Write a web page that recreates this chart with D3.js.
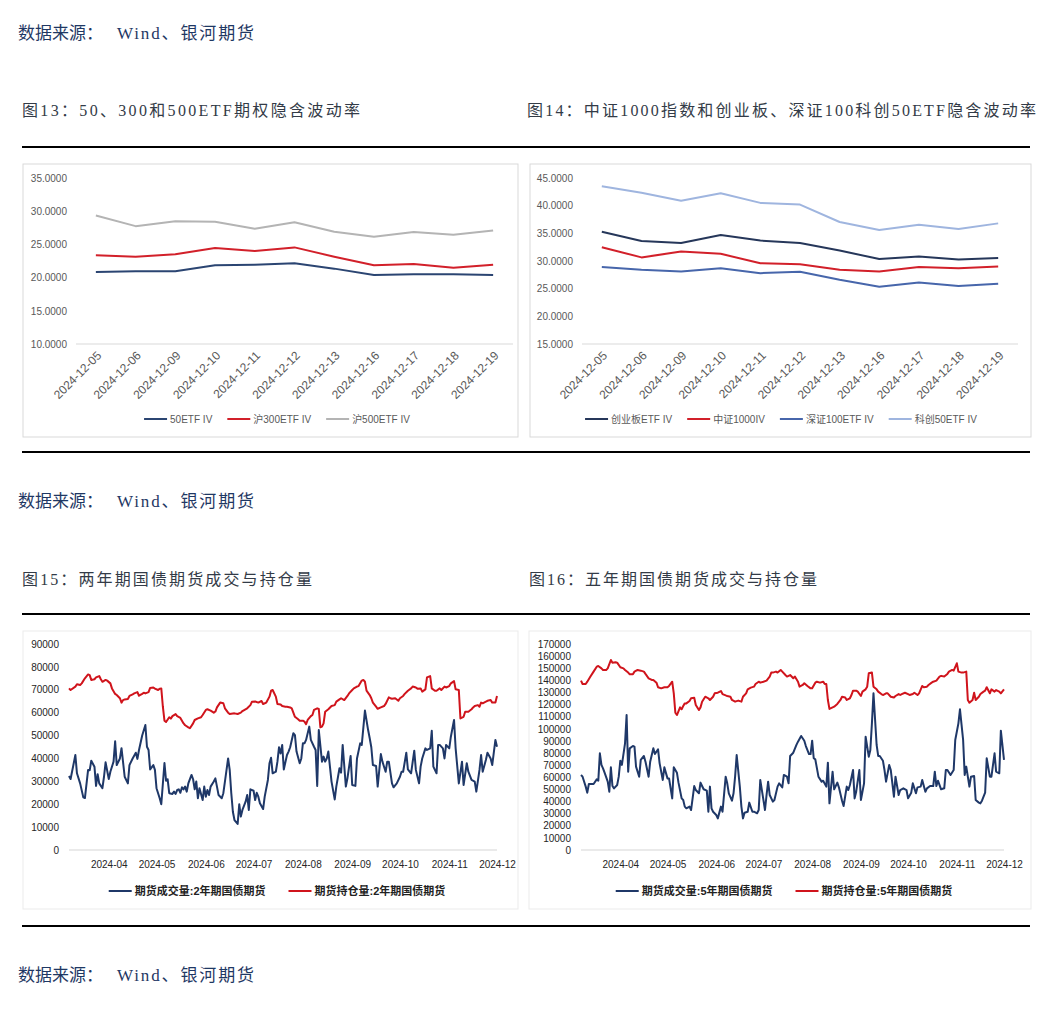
<!DOCTYPE html>
<html>
<head>
<meta charset="utf-8">
<script src="https://cdn.jsdelivr.net/npm/d3@7"></script>
<style>
body{margin:0;background:#fff;}
svg{display:block;}
</style>
</head>
<body>
<script>
//category axis of the two IV charts
var ivDates = ["2024-12-05","2024-12-06","2024-12-09","2024-12-10","2024-12-11","2024-12-12","2024-12-13","2024-12-16","2024-12-17","2024-12-18","2024-12-19"];

//fig 13 series
var iv50 = [20.85,20.95,20.95,21.85,21.95,22.15,21.35,20.4,20.5,20.5,20.4];
var iv300 = [23.35,23.15,23.5,24.45,24.0,24.55,23.15,21.85,22.05,21.5,21.95];
var iv500 = [29.35,27.75,28.5,28.4,27.35,28.35,26.9,26.15,26.85,26.45,27.1];

//fig 14 series
var ivCyb = [35.3,33.6,33.25,34.7,33.7,33.25,31.9,30.35,30.8,30.25,30.55];
var iv1000 = [32.5,30.65,31.7,31.3,29.6,29.4,28.4,28.1,28.9,28.7,29.0];
var ivSz100 = [28.9,28.4,28.1,28.7,27.8,28.05,26.6,25.35,26.1,25.5,25.9];
var ivKc50 = [43.5,42.35,40.9,42.25,40.5,40.2,37.05,35.6,36.55,35.8,36.8];

var ivTicks13 = [10,15,20,25,30,35];
var ivTicks14 = [15,20,25,30,35,40,45];

//fig 15: 2y treasury futures, [month-day of 2024, value]
var vol2 = [["03-07",32300],["03-08",31000],["03-11",41500],["03-12",33500],["03-14",29100],["03-16",23000],["03-17",22700],["03-19",35000],["03-20",34800],["03-21",39000],["03-23",36400],["03-24",28000],["03-25",33100],["03-26",29100],["03-28",27000],["03-29",32000],["03-30",38300],["04-01",31000],["04-02",34200],["04-04",38600],["04-05",47500],["04-06",37100],["04-08",40000],["04-09",44500],["04-11",32000],["04-13",29100],["04-14",37100],["04-16",40000],["04-18",42500],["04-19",39800],["04-20",43700],["04-22",50000],["04-24",54600],["04-25",45100],["04-26",43700],["04-27",35200],["04-29",37100],["04-30",35000],["05-01",27000],["05-03",22600],["05-04",20000],["05-06",38000],["05-07",30300],["05-08",30900],["05-09",24800],["05-11",24500],["05-12",25500],["05-13",24500],["05-14",26200],["05-15",26500],["05-16",25000],["05-17",27400],["05-18",26500],["05-19",27700],["05-20",25500],["05-21",29100],["05-23",32800],["05-24",30900],["05-25",26500],["05-26",29900],["05-27",22600],["05-28",27000],["05-30",21800],["05-31",27700],["06-01",23300],["06-02",26200],["06-03",24000],["06-04",27700],["06-06",29900],["06-07",31300],["06-08",27700],["06-09",24000],["06-11",22600],["06-12",24800],["06-13",29900],["06-15",40000],["06-16",35000],["06-17",24800],["06-18",16700],["06-19",13100],["06-21",11400],["06-22",20000],["06-23",14600],["06-24",17500],["06-26",21100],["06-27",24000],["06-28",17500],["06-29",26500],["07-01",25900],["07-02",21800],["07-03",25000],["07-04",23300],["07-05",20400],["07-07",17900],["07-08",23300],["07-10",30600],["07-11",37900],["07-12",40300],["07-13",33500],["07-15",34200],["07-16",38600],["07-17",44900],["07-18",42200],["07-19",45900],["07-20",35200],["07-22",41500],["07-23",43000],["07-24",44900],["07-26",51000],["07-27",50200],["07-28",43000],["07-30",37900],["07-31",40000],["08-01",46600],["08-02",46600],["08-03",48100],["08-05",53900],["08-06",48100],["08-08",45100],["08-09",43700],["08-10",28000],["08-11",52400],["08-13",38600],["08-14",40800],["08-15",38600],["08-16",40000],["08-17",43000],["08-19",29900],["08-21",22100],["08-22",27700],["08-24",35700],["08-25",33800],["08-26",45900],["08-28",27700],["08-29",31300],["08-31",41100],["09-01",28400],["09-03",28000],["09-04",40000],["09-06",46600],["09-07",45900],["09-09",60900],["09-11",52400],["09-12",48800],["09-13",44900],["09-14",37100],["09-16",36700],["09-17",27700],["09-19",41900],["09-20",38600],["09-22",34200],["09-23",38600],["09-24",38600],["09-26",29100],["09-27",27400],["09-29",29100],["10-01",32000],["10-02",34200],["10-03",34200],["10-05",42500],["10-06",35200],["10-08",33500],["10-10",43400],["10-11",35000],["10-13",29100],["10-14",36400],["10-15",40000],["10-17",44400],["10-18",43700],["10-20",44400],["10-21",52100],["10-22",36400],["10-24",33500],["10-25",45900],["10-26",45900],["10-28",44400],["10-29",40000],["10-30",45900],["11-01",44400],["11-02",49500],["11-04",56800],["11-05",44400],["11-07",29100],["11-09",38600],["11-10",28400],["11-12",37900],["11-13",34200],["11-15",30600],["11-17",29900],["11-18",25500],["11-20",35000],["11-21",41500],["11-22",34200],["11-24",39300],["11-25",42500],["11-27",40000],["11-28",37100],["11-30",48100],["12-01",45100]];

var oi2 = [["03-07",70600],["03-08",69900],["03-11",71400],["03-12",72400],["03-14",72100],["03-15",72800],["03-17",75000],["03-19",76700],["03-20",76400],["03-21",74300],["03-23",74600],["03-24",75400],["03-26",76000],["03-27",74600],["03-28",73500],["03-30",74300],["03-31",74000],["04-02",72800],["04-03",70600],["04-05",68200],["04-06",67700],["04-08",66300],["04-09",64400],["04-10",65500],["04-11",65800],["04-13",66000],["04-14",67300],["04-16",68000],["04-17",68400],["04-19",69000],["04-20",67400],["04-22",68200],["04-23",68700],["04-24",68400],["04-26",69000],["04-27",70800],["04-29",71000],["04-30",70500],["05-02",69900],["05-03",70500],["05-04",70600],["05-05",62600],["05-06",56500],["05-07",55900],["05-09",58000],["05-10",57400],["05-11",58500],["05-13",59400],["05-14",58500],["05-16",57700],["05-18",55300],["05-19",54500],["05-21",53600],["05-22",53200],["05-24",55300],["05-25",56800],["05-27",57500],["05-29",58000],["05-30",59000],["06-01",61200],["06-02",61500],["06-04",60900],["06-06",60000],["06-07",60500],["06-08",62300],["06-10",64400],["06-12",64100],["06-13",61900],["06-15",60000],["06-16",59400],["06-19",59700],["06-21",59400],["06-23",60000],["06-24",60700],["06-27",61900],["06-29",63300],["06-30",64800],["07-02",64900],["07-04",64400],["07-06",65100],["07-07",63800],["07-09",64400],["07-11",67000],["07-12",69600],["07-13",69900],["07-15",67000],["07-16",63800],["07-18",63600],["07-19",62900],["07-21",62600],["07-22",62600],["07-24",62300],["07-25",61900],["07-27",58200],["07-29",57100],["07-30",56500],["08-01",56500],["08-02",56100],["08-03",55000],["08-04",56800],["08-06",58500],["08-07",59000],["08-08",61200],["08-10",61900],["08-11",61600],["08-12",53600],["08-13",53900],["08-14",55300],["08-15",60400],["08-17",61500],["08-19",62900],["08-21",63300],["08-22",64800],["08-24",65800],["08-25",66300],["08-27",65500],["08-29",67300],["08-30",68400],["09-01",69900],["09-02",70600],["09-04",71400],["09-05",71600],["09-07",74000],["09-08",74300],["09-09",73500],["09-10",69600],["09-12",67700],["09-13",66300],["09-14",64400],["09-16",62600],["09-17",61700],["09-19",62300],["09-21",62900],["09-22",63800],["09-24",66700],["09-25",66300],["09-26",66100],["09-28",66300],["09-30",65200],["10-01",66300],["10-03",67300],["10-04",68200],["10-06",69600],["10-08",70600],["10-09",71400],["10-11",71000],["10-12",70500],["10-14",70600],["10-15",69200],["10-17",70200],["10-18",75400],["10-20",76000],["10-21",70600],["10-23",69600],["10-24",69600],["10-26",70600],["10-27",69900],["10-29",71400],["10-30",71000],["11-01",71600],["11-02",72800],["11-04",73800],["11-05",70200],["11-07",69900],["11-08",57500],["11-10",58200],["11-11",60400],["11-13",60400],["11-15",61500],["11-16",62300],["11-17",62900],["11-19",63300],["11-20",62600],["11-21",64400],["11-22",64100],["11-24",64800],["11-25",65200],["11-27",65500],["11-28",64400],["11-30",64400],["12-01",67300]];

//fig 16: 5y treasury futures
var vol5 = [["03-07",61900],["03-08",60500],["03-10",52300],["03-11",47300],["03-12",54500],["03-13",54500],["03-15",54500],["03-17",58300],["03-18",57200],["03-19",79800],["03-20",70200],["03-21",67400],["03-22",63800],["03-24",56400],["03-25",48100],["03-26",68200],["03-27",52800],["03-28",50900],["03-30",53600],["03-31",60500],["04-01",73700],["04-02",70200],["04-04",88000],["04-05",111400],["04-06",64600],["04-07",83900],["04-09",85800],["04-10",85300],["04-11",68800],["04-13",60500],["04-14",74300],["04-16",77600],["04-17",72900],["04-19",60500],["04-20",72900],["04-22",83900],["04-23",79200],["04-25",83100],["04-26",71500],["04-28",57800],["04-29",68200],["05-01",59100],["05-02",59100],["05-04",42600],["05-05",68200],["05-07",63800],["05-08",55600],["05-10",42600],["05-11",41300],["05-12",35800],["05-13",34400],["05-15",35800],["05-16",33000],["05-18",52800],["05-19",49500],["05-21",46800],["05-22",55600],["05-23",52800],["05-24",50100],["05-26",49000],["05-27",31600],["05-28",52300],["05-29",34400],["05-30",31600],["06-01",28900],["06-02",26100],["06-04",35800],["06-05",31600],["06-07",60500],["06-08",55000],["06-09",46800],["06-11",40700],["06-12",46800],["06-13",60500],["06-14",78400],["06-16",52300],["06-17",35800],["06-18",26100],["06-19",30800],["06-21",31600],["06-22",39100],["06-24",31600],["06-25",31600],["06-27",30300],["06-28",33000],["06-29",57800],["07-01",41300],["07-02",33000],["07-03",45400],["07-04",56400],["07-05",45400],["07-07",39900],["07-08",41300],["07-10",52300],["07-11",55000],["07-13",51700],["07-14",61900],["07-16",60500],["07-17",55000],["07-18",77600],["07-20",80300],["07-22",86700],["07-23",89400],["07-25",94100],["07-27",90200],["07-28",85800],["07-30",79200],["07-31",79200],["08-01",90200],["08-02",75700],["08-03",74800],["08-05",60500],["08-07",56400],["08-08",57200],["08-10",52300],["08-11",72100],["08-12",38500],["08-14",64600],["08-15",50100],["08-17",55600],["08-18",51700],["08-20",40700],["08-21",36300],["08-23",52300],["08-24",49500],["08-25",53600],["08-27",66000],["08-28",42600],["08-29",48100],["08-31",66000],["09-01",41300],["09-03",55000],["09-04",93500],["09-06",77000],["09-07",82500],["09-08",104500],["09-09",129300],["09-11",86700],["09-12",77600],["09-13",77600],["09-15",73700],["09-16",66000],["09-17",56400],["09-19",70200],["09-20",66000],["09-22",44000],["09-23",60500],["09-25",45400],["09-26",49500],["09-28",50900],["09-30",49500],["10-01",42600],["10-03",47300],["10-04",55000],["10-06",46800],["10-07",51700],["10-09",52300],["10-10",57800],["10-12",48100],["10-13",50900],["10-15",52800],["10-17",52800],["10-18",64600],["10-19",52800],["10-20",57200],["10-22",50100],["10-24",50900],["10-25",66000],["10-26",66000],["10-28",61900],["10-30",66000],["10-31",90800],["11-02",104500],["11-03",116100],["11-05",90800],["11-06",61900],["11-07",68800],["11-09",52300],["11-10",60500],["11-12",61100],["11-13",41300],["11-15",39100],["11-16",38500],["11-17",40700],["11-19",47300],["11-20",75700],["11-22",60500],["11-23",60500],["11-25",79800],["11-26",64600],["11-28",63300],["11-29",98500],["12-01",74300]];

var oi5 = [["03-07",139800],["03-08",137000],["03-10",137000],["03-11",138900],["03-13",143100],["03-15",147200],["03-17",151300],["03-18",151800],["03-20",149900],["03-21",148600],["03-23",148600],["03-24",149900],["03-26",156800],["03-27",154600],["03-29",154900],["03-30",154600],["04-01",150800],["04-03",149900],["04-04",148600],["04-06",146400],["04-07",145000],["04-09",145000],["04-10",147200],["04-12",148600],["04-14",148000],["04-16",147200],["04-17",145300],["04-19",141700],["04-21",140300],["04-22",140300],["04-24",138100],["04-25",134300],["04-27",133400],["04-29",134300],["05-01",134300],["05-02",135400],["05-04",138900],["05-05",129300],["05-06",113300],["05-07",111400],["05-09",117700],["05-10",116100],["05-11",118800],["05-12",121000],["05-13",121000],["05-15",123000],["05-16",125200],["05-18",125700],["05-19",119700],["05-21",115500],["05-22",117700],["05-23",122400],["05-25",126500],["05-27",125200],["05-28",123800],["05-30",126500],["05-31",129300],["06-02",129800],["06-04",131200],["06-05",128700],["06-07",127600],["06-08",127100],["06-10",126500],["06-11",123800],["06-13",122400],["06-15",123300],["06-17",122400],["06-18",126500],["06-20",129300],["06-21",132600],["06-23",134000],["06-25",134800],["06-26",137000],["06-28",138900],["06-29",138100],["07-01",138900],["07-03",139800],["07-05",143100],["07-06",146400],["07-07",146400],["07-09",147200],["07-10",146400],["07-12",148600],["07-13",147200],["07-15",144400],["07-16",143100],["07-18",144400],["07-20",141700],["07-21",143100],["07-23",138900],["07-24",134800],["07-26",136200],["07-27",137600],["07-29",135400],["07-31",133400],["08-01",133400],["08-03",138100],["08-04",138900],["08-06",138100],["08-08",138900],["08-09",137000],["08-10",137000],["08-11",123800],["08-12",116400],["08-14",117700],["08-15",118300],["08-17",120500],["08-19",123800],["08-20",126500],["08-22",125900],["08-23",123800],["08-25",125200],["08-26",127900],["08-27",131500],["08-29",131500],["08-30",130700],["09-01",127100],["09-02",130700],["09-04",132600],["09-05",134800],["09-06",145800],["09-08",146400],["09-09",134800],["09-11",132600],["09-12",130700],["09-14",128700],["09-15",127900],["09-17",129300],["09-18",129300],["09-20",126500],["09-22",125900],["09-23",127100],["09-25",128700],["09-26",127900],["09-27",128700],["09-29",129800],["10-01",128700],["10-02",127900],["10-04",128700],["10-05",129800],["10-07",127900],["10-08",129300],["10-10",135400],["10-11",134300],["10-13",134800],["10-14",136200],["10-16",138100],["10-17",138900],["10-19",139800],["10-21",143100],["10-22",143700],["10-24",143100],["10-26",145300],["10-27",147200],["10-29",148600],["10-30",148000],["11-01",154100],["11-02",147200],["11-04",146400],["11-05",146400],["11-07",147200],["11-08",123800],["11-09",121600],["11-11",123800],["11-12",129800],["11-13",123800],["11-15",126500],["11-16",128700],["11-18",130700],["11-19",131500],["11-20",134300],["11-22",129300],["11-23",132600],["11-25",130700],["11-26",132000],["11-28",130700],["11-29",129300],["12-01",132600]];

var tbStart = "2024-03-07", tbEnd = "2024-12-01";

var width = 1060, height = 1012;
var serif = "'Liberation Serif','Noto Sans CJK SC',serif";
var sans = "'Liberation Sans','Noto Sans CJK SC',sans-serif";
var parseDay = d3.timeParse("%Y-%m-%d");

var svg = d3.select("body").append("svg")
	.attr("width", width)
	.attr("height", height);

//source lines and titles
function source(y){
	svg.append("text").attr("x", 18).attr("y", y)
		.attr("font-family", sans).attr("font-size", 17).attr("fill", "#1f3864")
		.text("数据来源：");
	svg.append("text").attr("x", 117).attr("y", y)
		.attr("font-family", serif).attr("font-size", 17).attr("fill", "#1f3864")
		.attr("textLength", 137).attr("lengthAdjust", "spacing")
		.text("Wind、银河期货");
}
function title(x, y, len, txt){
	svg.append("text").attr("x", x).attr("y", y)
		.attr("font-family", serif).attr("font-size", 16).attr("fill", "#333b47")
		.attr("textLength", len).attr("lengthAdjust", "spacing")
		.text(txt);
}
function rule(y){
	svg.append("line").attr("x1", 22).attr("x2", 1030).attr("y1", y).attr("y2", y)
		.attr("stroke", "#000").attr("stroke-width", 2);
}

source(39); source(507); source(981);
title(22, 116, 338, "图13：50、300和500ETF期权隐含波动率");
title(527, 116, 509, "图14：中证1000指数和创业板、深证100科创50ETF隐含波动率");
title(22, 585, 290, "图15：两年期国债期货成交与持仓量");
title(529, 585, 288, "图16：五年期国债期货成交与持仓量");
rule(147); rule(452); rule(614); rule(926);

//legend row centred on cx
function legend(cx, y, items, opt){
	var g = svg.append("g");
	var x = 0;
	items.forEach(function(it){
		g.append("line").attr("x1", x).attr("x2", x + 23).attr("y1", y).attr("y2", y)
			.attr("stroke", it.color).attr("stroke-width", 2);
		var t = g.append("text").attr("x", x + 26).attr("y", y).attr("dy", "0.35em")
			.attr("font-family", opt.font).attr("font-size", opt.size)
			.attr("font-weight", opt.weight).attr("fill", opt.fill)
			.text(it.name);
		x += 26 + t.node().getComputedTextLength() + opt.gap;
	});
	var total = x - opt.gap;
	g.attr("transform", "translate(" + (cx - total / 2) + ",0)");
}

//IV charts with category axis
function ivChart(o){
	svg.append("rect").attr("x", o.frame[0]).attr("y", o.frame[1])
		.attr("width", o.frame[2] - o.frame[0]).attr("height", o.frame[3] - o.frame[1])
		.attr("fill", "none").attr("stroke", "#d9d9d9");

	var x = d3.scaleBand().domain(ivDates).range([o.left, o.right]);
	var y = d3.scaleLinear().domain([o.ticks[0], o.ticks[o.ticks.length - 1]]).range([344, 178]);

	svg.append("line").attr("x1", o.left).attr("x2", o.right)
		.attr("y1", y(o.ticks[0])).attr("y2", y(o.ticks[0]))
		.attr("stroke", "#d9d9d9").attr("stroke-width", 1);

	var ya = svg.append("g").attr("transform", "translate(" + o.left + ",0)")
		.call(d3.axisLeft(y).tickValues(o.ticks).tickSize(0).tickPadding(o.left - o.labelRight).tickFormat(d3.format(".4f")));
	ya.select(".domain").remove();
	ya.selectAll("text").attr("font-family", sans).attr("font-size", 10).attr("fill", "#595959");

	var xa = svg.append("g").attr("transform", "translate(0," + y(o.ticks[0]) + ")")
		.call(d3.axisBottom(x).tickSize(0));
	xa.select(".domain").remove();
	xa.selectAll("text")
		.attr("font-family", sans).attr("font-size", 12).attr("fill", "#595959")
		.attr("text-anchor", "end").attr("dy", null).attr("y", null)
		.attr("transform", "translate(4,10) rotate(-45)")
		.attr("dominant-baseline", "middle");

	var line = d3.line()
		.x(function(d, i){ return x(ivDates[i]) + x.bandwidth() / 2; })
		.y(function(d){ return y(d); });

	o.series.forEach(function(s){
		svg.append("path").datum(s.values)
			.attr("fill", "none").attr("stroke", s.color).attr("stroke-width", 2)
			.attr("stroke-linejoin", "round")
			.attr("d", line);
	});

	legend(o.legendX, 419, o.series, {font: sans, size: 10, weight: "normal", fill: "#595959", gap: 15});
}

ivChart({
	frame: [23, 164, 518, 437], left: 76, right: 513, labelRight: 67,
	ticks: ivTicks13, legendX: 277,
	series: [
		{name: "50ETF IV", values: iv50, color: "#2b4572"},
		{name: "沪300ETF IV", values: iv300, color: "#d2202a"},
		{name: "沪500ETF IV", values: iv500, color: "#b4b4b4"}
	]
});
ivChart({
	frame: [530, 164, 1031, 437], left: 582, right: 1018, labelRight: 573,
	ticks: ivTicks14, legendX: 781,
	series: [
		{name: "创业板ETF IV", values: ivCyb, color: "#26375a"},
		{name: "中证1000IV", values: iv1000, color: "#d2202a"},
		{name: "深证100ETF IV", values: ivSz100, color: "#4766ab"},
		{name: "科创50ETF IV", values: ivKc50, color: "#9fb5df"}
	]
});

//treasury futures charts with date axis
function tbChart(o){
	svg.append("rect").attr("x", o.frame[0]).attr("y", o.frame[1])
		.attr("width", o.frame[2] - o.frame[0]).attr("height", o.frame[3] - o.frame[1])
		.attr("fill", "none").attr("stroke", "#ebebeb");

	var x = d3.scaleTime().domain([parseDay(tbStart), parseDay(tbEnd)]).range([o.left, o.right]);
	var y = d3.scaleLinear().domain([0, o.max]).range([850, 644]);

	svg.append("line").attr("x1", o.left).attr("x2", o.right).attr("y1", y(0)).attr("y2", y(0))
		.attr("stroke", "#e3e3e3").attr("stroke-width", 1.5);

	var ya = svg.append("g").attr("transform", "translate(" + o.left + ",0)")
		.call(d3.axisLeft(y).ticks(o.max / 10000).tickSize(0).tickPadding(o.left - o.labelRight).tickFormat(d3.format("d")));
	ya.select(".domain").remove();
	ya.selectAll("text").attr("font-family", sans).attr("font-size", 10).attr("fill", "#262626");

	var months = d3.timeMonth.range(parseDay("2024-04-01"), parseDay("2024-12-02"));
	var xa = svg.append("g").attr("transform", "translate(0," + y(0) + ")")
		.call(d3.axisBottom(x).tickValues(months).tickSize(0).tickPadding(11).tickFormat(d3.timeFormat("%Y-%m")));
	xa.select(".domain").remove();
	xa.selectAll("text").attr("font-family", sans).attr("font-size", 10).attr("fill", "#262626");

	var line = d3.line()
		.x(function(d){ return x(parseDay("2024-" + d[0])); })
		.y(function(d){ return y(d[1]); });

	o.series.forEach(function(s){
		svg.append("path").datum(s.values)
			.attr("fill", "none").attr("stroke", s.color).attr("stroke-width", 2)
			.attr("stroke-linejoin", "round")
			.attr("d", line);
	});

	legend(o.legendX, 891, o.series, {font: sans, size: 11, weight: "bold", fill: "#222", gap: 23});
}

tbChart({
	frame: [23, 631, 518, 909], left: 69, right: 497, labelRight: 59, max: 90000, legendX: 277,
	series: [
		{name: "期货成交量:2年期国债期货", values: vol2, color: "#1f3868"},
		{name: "期货持仓量:2年期国债期货", values: oi2, color: "#d0141c"}
	]
});
tbChart({
	frame: [529, 631, 1031, 909], left: 581, right: 1004, labelRight: 571, max: 170000, legendX: 784,
	series: [
		{name: "期货成交量:5年期国债期货", values: vol5, color: "#1f3868"},
		{name: "期货持仓量:5年期国债期货", values: oi5, color: "#d0141c"}
	]
});
</script>
</body>
</html>
